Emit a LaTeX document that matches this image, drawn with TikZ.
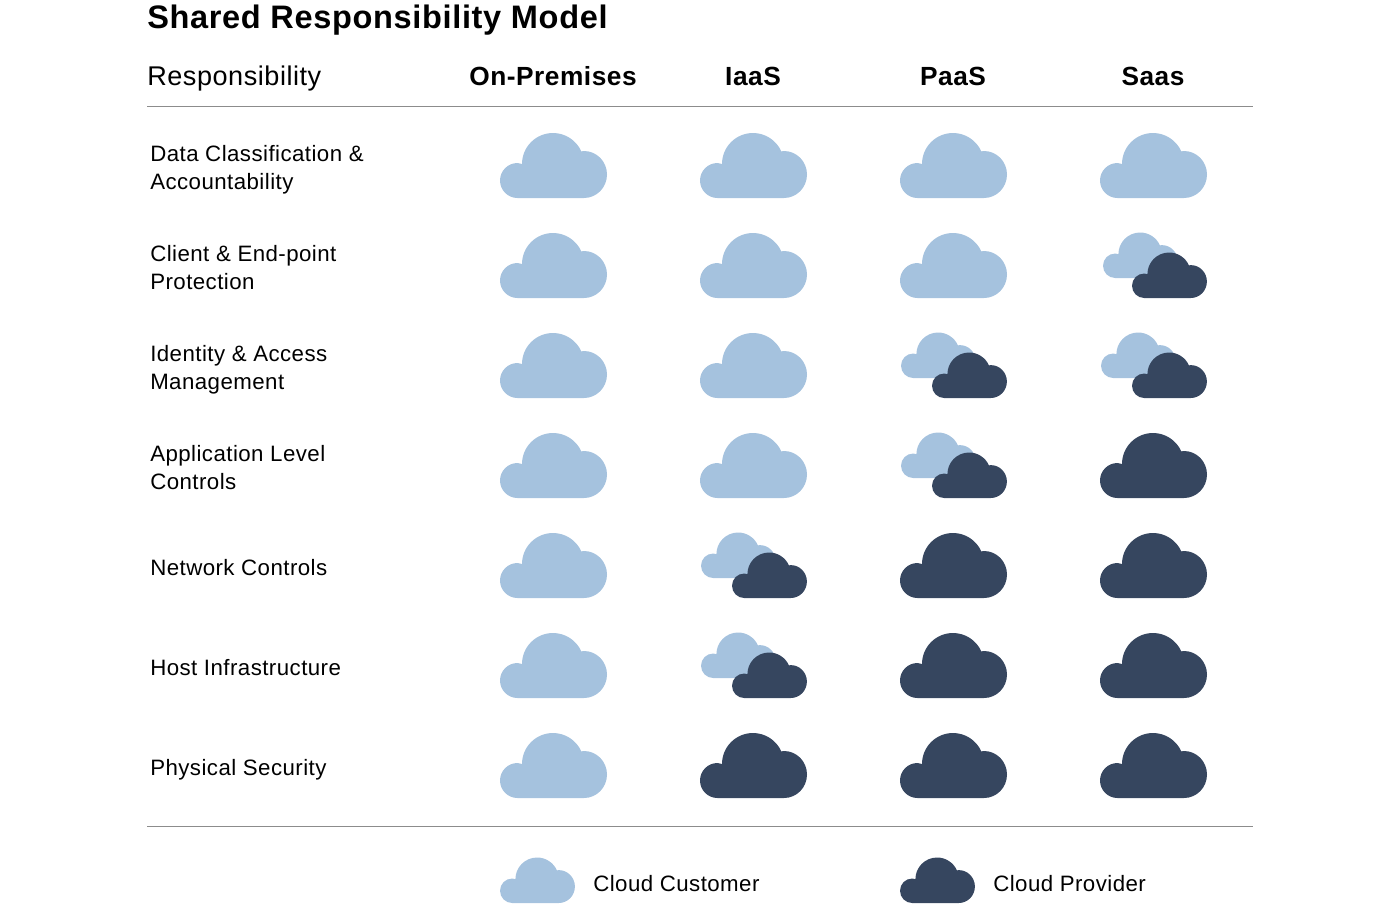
\documentclass[tikz,border=0pt]{standalone}
\usepackage{fontspec}
\setmainfont{Liberation Sans}[LetterSpace=2]
\usetikzlibrary{positioning}
\definecolor{cloudlight}{HTML}{A5C2DE}
\definecolor{clouddark}{HTML}{36465F}
\definecolor{rulegray}{HTML}{8C8C8C}

\tikzset{
  cloudshape/.pic={
    \path[pic actions] (17.5,0) arc[start angle=270,end angle=90,radius=17.5]
      -- (22,34) arc[start angle=180,end angle=24,radius=31]
      -- (84,47) arc[start angle=90,end angle=-90,x radius=23,y radius=23.5] -- cycle;
  },
  cloudpair/.pic={
    \pic at (#1,20) [lightcloud,scale=.7] {cloudshape};
    \pic at (32,0) [darkcloud,scale=.7] {cloudshape};
  },
  cloudpair/.default=0
}

\begin{document}
\begin{tikzpicture}[x=.75pt,y=.75pt,
    lightcloud/.style={fill=cloudlight},
    darkcloud/.style={fill=clouddark},
    heading/.style={anchor=base,inner sep=0,font=\bfseries\fontsize{19.7}{24}\selectfont},
    rowlabel/.style={anchor=base west,inner sep=0,align=left,font=\fontsize{16.7}{21}\selectfont},
    legendlabel/.style={anchor=base west,inner sep=0,font=\fontsize{16.7}{21}\selectfont},
    rulerline/.style={draw=rulegray,line width=.75pt}]
    \useasboundingbox (0,-904) rectangle (1400,0);

    \node[anchor=base west,inner sep=0,font=\bfseries\fontsize{24.4}{28}\selectfont] (title) at (147,-28) {Shared Responsibility Model};
    \node[anchor=base west,inner sep=0,font=\fontsize{20.3}{24}\selectfont] (resp) at (147,-85) {Responsibility};
    \node[heading] (onprem) at (553,-85) {On-Premises};
    \node[heading] (iaas) at (753,-85) {IaaS};
    \node[heading] (paas) at (953,-85) {PaaS};
    \node[heading] (saas) at (1153,-85) {Saas};

    \coordinate (topl) at (147,-106);
    \coordinate (topr) at (1253,-106);
    \coordinate (botl) at (147,-826);
    \coordinate (botr) at (1253,-826);
    \path[rulerline] (topl) -- (topr);
    \path[rulerline] (botl) -- (botr);

    \node[rowlabel] (row1) at (150,-189.2) {Data Classification \&\\Accountability};
    \node[rowlabel] (row2) at (150,-289.2) {Client \& End-point\\Protection};
    \node[rowlabel] (row3) at (150,-389.2) {Identity \& Access\\Management};
    \node[rowlabel] (row4) at (150,-489.2) {Application Level\\Controls};
    \node[rowlabel] (row5) at (150,-575.2) {Network Controls};
    \node[rowlabel] (row6) at (150,-675.2) {Host Infrastructure};
    \node[rowlabel] (row7) at (150,-775.2) {Physical Security};

    \foreach \x/\rows in {500/{198,298,398,498,598,698,798},700/{198,298,398,498},900/{198,298},1100/{198}}
        \foreach \y in \rows
            \pic at (\x,-\y) [lightcloud] {cloudshape};
    \foreach \x/\rows in {700/{798},900/{598,698,798},1100/{498,598,698,798}}
        \foreach \y in \rows
            \pic at (\x,-\y) [darkcloud] {cloudshape};
    \foreach \x/\y in {700/598,700/698,900/398,900/498,1100/398}
        \pic at (\x,-\y) {cloudpair};
    \pic at (1100,-298) {cloudpair=3};

    \pic at (500,-903) [lightcloud,scale=.7] {cloudshape};
    \pic at (900,-903) [darkcloud,scale=.7] {cloudshape};
    \node[legendlabel] (customer) at (593,-891) {Cloud Customer};
    \node[legendlabel] (provider) at (993,-891) {Cloud Provider};
\end{tikzpicture}
\end{document}
